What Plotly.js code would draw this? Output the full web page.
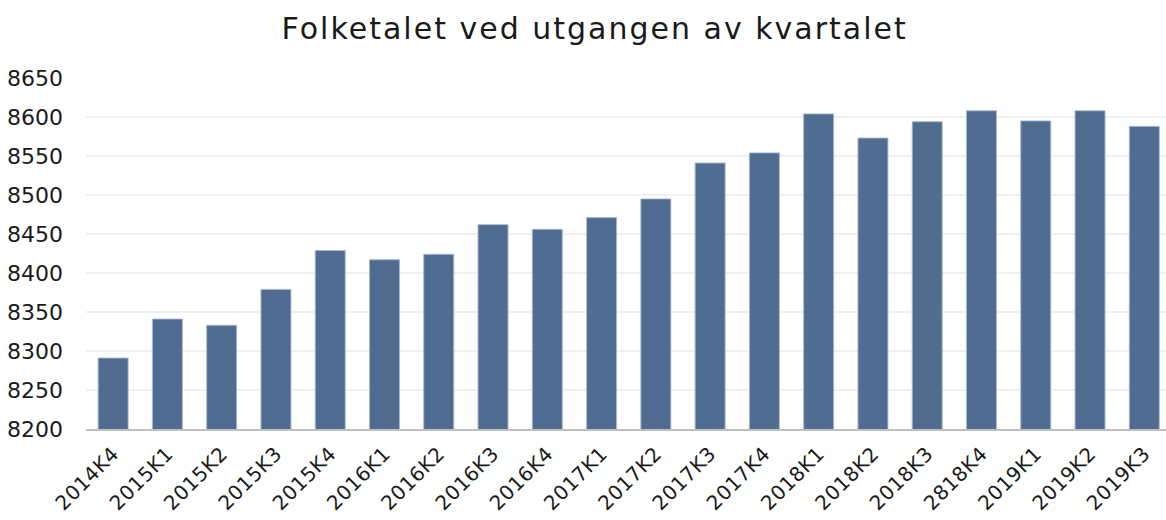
<!DOCTYPE html>
<html>
<head>
<meta charset="utf-8">
<script src="https://cdn.plot.ly/plotly-3.0.1.min.js"></script>
<style>
html,body{margin:0;padding:0;background:#fff;}
#chart{width:1166px;height:520px;}
#chart .gtitle{letter-spacing:2px;}
#chart .xtick text{letter-spacing:0.5px;}
</style>
</head>
<body>
<div id="chart"></div>
<script>
var categories = ["2014K4","2015K1","2015K2","2015K3","2015K4","2016K1","2016K2","2016K3","2016K4","2017K1","2017K2","2017K3","2017K4","2018K1","2018K2","2018K3","2818K4","2019K1","2019K2","2019K3"];
var population = [8291,8341,8333,8379,8429,8417,8424,8462,8456,8471,8495,8541,8554,8604,8573,8594,8608,8595,8608,8588];
var yTicks = [8200,8250,8300,8350,8400,8450,8500,8550,8600,8650];
var chartTitle = "Folketalet ved utgangen av kvartalet";

var font = "'DejaVu Sans', sans-serif";
var trace = {
  type: "bar",
  x: categories,
  y: population,
  marker: {color: "#506c91", line: {color: "rgba(170,185,210,0.9)", width: 1}},
  hoverinfo: "x+y"
};
var layout = {
  width: 1166, height: 520,
  margin: {l: 86, r: 0, t: 78, b: 91},
  paper_bgcolor: "#fff", plot_bgcolor: "#fff",
  bargap: 0.447,
  showlegend: false,
  title: {text: chartTitle, x: 0.51, xanchor: "center", y: 0.945, yanchor: "middle",
          font: {family: font, size: 30, color: "#1a1a1a"}},
  xaxis: {
    type: "category",
    range: [-0.5, 19.4],
    tickangle: -45,
    tickfont: {family: font, size: 20, color: "#1a1a1a"},
    showline: true, linecolor: "#bfbfbf", linewidth: 2,
    showgrid: false, ticks: "", ticklabelstandoff: 3,
    fixedrange: true
  },
  yaxis: {
    range: [8200, 8650],
    tickvals: yTicks,
    ticktext: yTicks.map(String),
    tickfont: {family: font, size: 22, color: "#1a1a1a"},
    showgrid: true, gridcolor: "#f0f0f0", gridwidth: 2,
    zeroline: false, showline: false, ticks: "",
    ticklabelstandoff: 22,
    fixedrange: true
  }
};
Plotly.newPlot("chart", [trace], layout, {displayModeBar: false, staticPlot: true});
</script>
</body>
</html>
